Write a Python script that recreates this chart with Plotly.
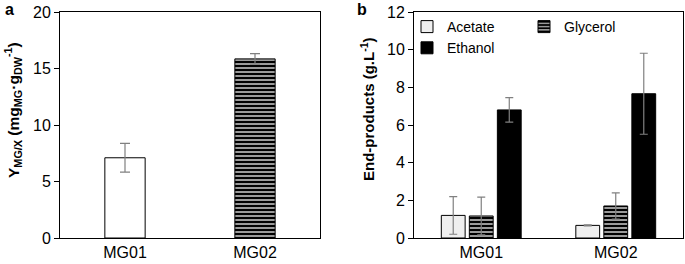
import plotly.graph_objects as go

# ---- data ----
strains = ["MG01", "MG02"]
yield_vals = [7.1, 15.85]
yield_err = [1.27, 0.47]

acetate = [1.2, 0.67]
acetate_err = [1.0, 0.03]
glycerol = [1.17, 1.7]
glycerol_err = [1.0, 0.7]
ethanol = [6.8, 7.66]
ethanol_err = [0.65, 2.15]

W, H = 685, 264
ML, MR, MT, MB = 0, 0, 12, 26
PW, PH = W - ML - MR, H - MT - MB

def px_x(x):
    return (x - ML) / PW

def px_y(y):
    return (H - MB - y) / PH

FONT = "Liberation Sans, Arial, sans-serif"
ERR_COLOR = "#808080"

fig = go.Figure()

# panel a
fig.add_trace(go.Bar(
    x=strains, y=yield_vals, width=0.31,
    error_y=dict(type="data", array=yield_err, color=ERR_COLOR, thickness=1.2, width=5),
    marker=dict(color="white", line=dict(color="black", width=1),
                pattern=dict(shape=["", "-"], fgcolor="black", bgcolor="white",
                             size=4, solidity=0.7, fgopacity=1)),
    xaxis="x", yaxis="y", showlegend=False,
))

# panel b
fig.add_trace(go.Bar(
    x=strains, y=acetate, name="Acetate",
    error_y=dict(type="data", array=acetate_err, color=ERR_COLOR, thickness=1.2, width=4),
    marker=dict(color="#efefef", line=dict(color="black", width=1)),
    xaxis="x2", yaxis="y2", legend="legend",
))
fig.add_trace(go.Bar(
    x=strains, y=glycerol, name="Glycerol",
    error_y=dict(type="data", array=glycerol_err, color=ERR_COLOR, thickness=1.2, width=4),
    marker=dict(color="white", line=dict(color="black", width=1),
                pattern=dict(shape="-", fgcolor="black", bgcolor="white",
                             size=4, solidity=0.7, fgopacity=1)),
    xaxis="x2", yaxis="y2", legend="legend2",
))
fig.add_trace(go.Bar(
    x=strains, y=ethanol, name="Ethanol",
    error_y=dict(type="data", array=ethanol_err, color=ERR_COLOR, thickness=1.2, width=4),
    marker=dict(color="black", line=dict(color="black", width=1)),
    xaxis="x2", yaxis="y2", legend="legend",
))

axis_common = dict(showline=True, mirror=True, linecolor="black", linewidth=1,
                   showgrid=False, zeroline=False,
                   tickfont=dict(family=FONT, size=16, color="black"))

def ann(text, x, y, size, angle=0):
    return dict(text=text, x=px_x(x), y=px_y(y), xref="paper", yref="paper",
                xanchor="center", yanchor="middle", textangle=angle,
                showarrow=False, font=dict(family=FONT, size=size, color="black"))

fig.update_layout(
    width=W, height=H,
    margin=dict(l=ML, r=MR, t=MT, b=MB, pad=0),
    paper_bgcolor="white", plot_bgcolor="white",
    barmode="group", bargap=0.375, bargroupgap=0.15,
    font=dict(family=FONT, color="black"),
    xaxis=dict(domain=[px_x(60), px_x(320)], anchor="y", ticks="", **axis_common),
    yaxis=dict(domain=[0, 1], anchor="x", range=[0, 20], dtick=5, ticks="outside",
               ticklen=5, tickcolor="black", **axis_common),
    xaxis2=dict(domain=[px_x(414), px_x(683)], anchor="y2", ticks="", **axis_common),
    yaxis2=dict(domain=[0, 1], anchor="x2", range=[0, 12], dtick=2, ticks="outside",
                ticklen=5, tickcolor="black", **axis_common),
    legend=dict(x=px_x(407), y=px_y(11), xanchor="left", yanchor="top",
                orientation="v", bgcolor="rgba(0,0,0,0)",
                font=dict(family=FONT, size=14, color="black"), tracegroupgap=0),
    legend2=dict(x=px_x(524), y=px_y(11), xanchor="left", yanchor="top",
                 orientation="v", bgcolor="rgba(0,0,0,0)",
                 font=dict(family=FONT, size=14, color="black")),
    annotations=[
        ann("<b>Y<sub>MG/X</sub> (mg<sub>MG</sub>·g<sub>DW</sub><sup>-1</sup>)</b>", 13, 110, 15.5, -90),
        ann("<b>End-products (g.L<sup>-1</sup>)</b>", 367, 109, 15, -90),
        ann("<b>a</b>", 9, 10, 16),
        ann("<b>b</b>", 362, 10, 16),
    ],
)

fig.write_html("out.html", config={"displayModeBar": False},
               post_script="document.body.style.margin='0';document.body.style.padding='0';")
